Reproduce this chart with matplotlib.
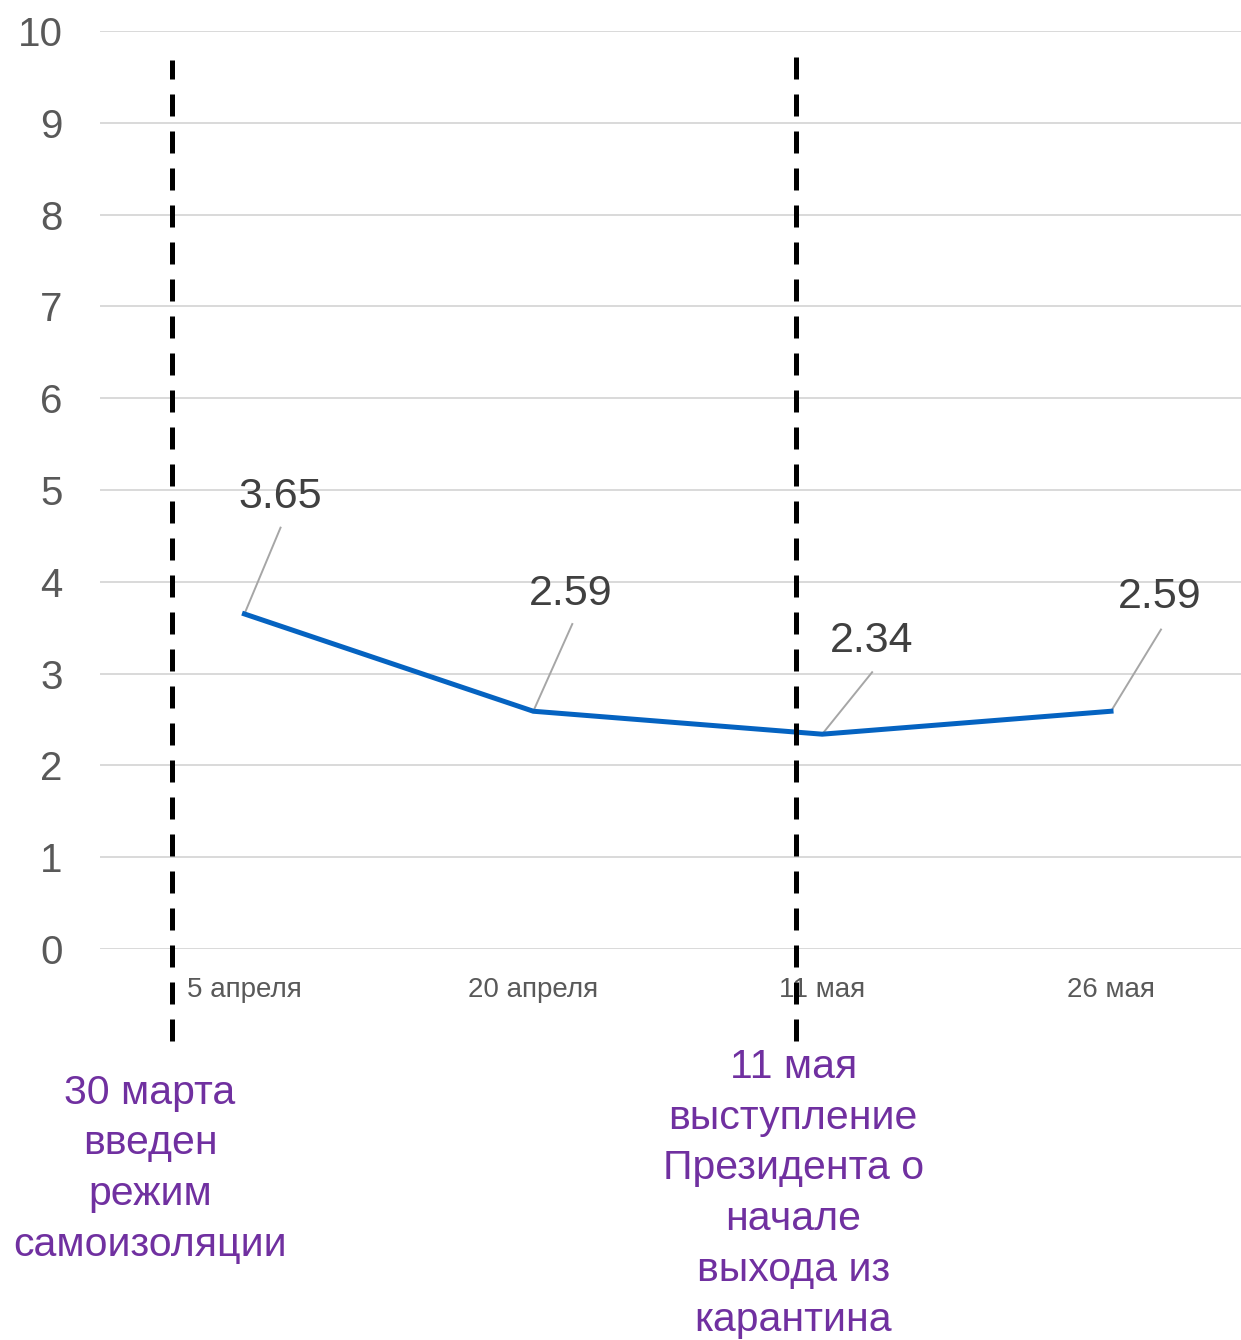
import matplotlib
matplotlib.use("Agg")
import matplotlib.pyplot as plt
from matplotlib import font_manager

# data
dates = ["5 апреля", "20 апреля", "11 мая", "26 мая"]
values = [3.65, 2.59, 2.34, 2.59]
label_texts = ["3.65", "2.59", "2.34", "2.59"]
event_positions = [-0.25, 1.91]
event_texts = ["30 марта\nвведен\nрежим\nсамоизоляции",
               "11 мая\nвыступление\nПрезидента о\nначале\nвыхода из\nкарантина"]

names = {f.name for f in font_manager.fontManager.ttflist}
narrow = "Liberation Sans Narrow" if "Liberation Sans Narrow" in names else "Liberation Sans"
NARROW = [narrow, "DejaVu Sans"]
REGULAR = ["Liberation Sans", "DejaVu Sans"]

fig = plt.figure(figsize=(12.41, 13.4), dpi=100)
ax = fig.add_axes([100 / 1241, (1340 - 949) / 1340, 1 - 100 / 1241, (949 - 31) / 1340])

x = list(range(len(dates)))
ax.plot(x, values, color="#0563C1", lw=3.6, solid_joinstyle="miter", zorder=3)

ax.set_xlim(-0.5, 3.45)
ax.set_ylim(0, 10)
ax.set_yticks(range(0, 11))
ax.set_xticks(x)
ax.set_xticklabels(dates)
ax.grid(axis="y", color="#d9d9d9", lw=1.4)
ax.set_axisbelow(True)
for s in ax.spines.values():
    s.set_visible(False)
ax.tick_params(axis="both", length=0)
ax.tick_params(axis="y", pad=27, labelcolor="#595959", labelsize=29)
ax.tick_params(axis="x", pad=20, labelcolor="#595959", labelsize=20)
for lbl in ax.get_xticklabels() + ax.get_yticklabels():
    lbl.set_family(NARROW)

# dashed event lines, running below the axis
for xp, top in zip(event_positions, [9.68, 9.72]):
    ax.plot([xp, xp], [-1.0, top], color="black", lw=3.6, ls=(0, (4.4, 3.0)),
            clip_on=False, zorder=4)

# data labels with leader lines
leader_ends = [(0.125, 0.94), (0.135, 0.95), (0.173, 0.675), (0.173, 0.89)]
text_offsets = [(0.125, 1.27), (0.13, 1.28), (0.173, 1.02), (0.17, 1.24)]
for xi, v, t, (lx, ly), (tx, ty) in zip(x, values, label_texts, leader_ends, text_offsets):
    ax.plot([xi, xi + lx], [v, v + ly], color="#a6a6a6", lw=1.4, zorder=2)
    ax.text(xi + tx, v + ty, t, ha="center", va="center", fontsize=31,
            color="#404040", family=NARROW)

# event descriptions
ax.text(-0.327, -1.36, event_texts[0], ha="center", va="top", fontsize=29.5,
        color="#7030A0", family=REGULAR, linespacing=1.42, clip_on=False)
ax.text(1.9, -1.08, event_texts[1], ha="center", va="top", fontsize=29.5,
        color="#7030A0", family=REGULAR, linespacing=1.42, clip_on=False)

fig.savefig("out.png", dpi=100)
